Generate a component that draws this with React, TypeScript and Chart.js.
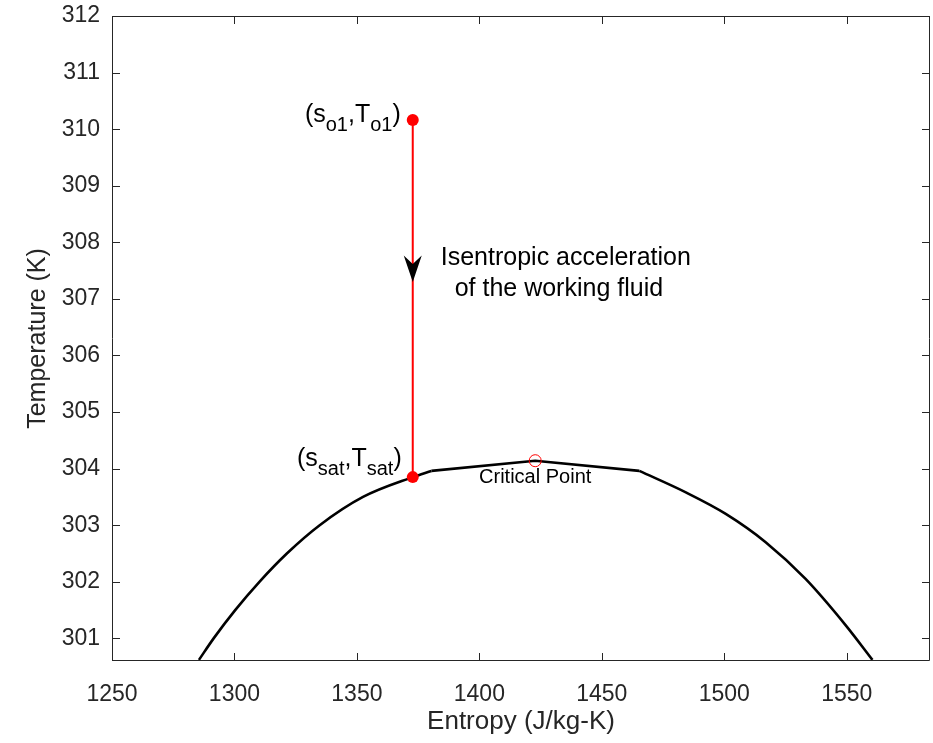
import React, { useEffect, useRef } from "react";
import { Chart, registerables } from "chart.js";

Chart.register(...registerables);

// Saturation dome: liquid branch, near-critical top, vapour branch
const satLeftEntropy = [1285.5, 1291.5, 1300.3, 1310.2, 1321.4, 1334.8, 1352.5, 1372.8, 1380.4];
const satLeftTemperature = [300.62, 301.0, 301.5, 302.0, 302.5, 303.0, 303.5, 303.85, 303.96];
const satTopEntropy = [1380.4, 1422.8, 1465.3];
const satTopTemperature = [303.96, 304.14, 303.96];
const satRightEntropy = [1465.3, 1484.3, 1500.6, 1516.9, 1533.2, 1549.6, 1560.5];
const satRightTemperature = [303.96, 303.58, 303.2, 302.7, 302.05, 301.23, 300.62];

// Isentropic process (stagnation -> saturation)
const processEntropy = [1372.8, 1372.8];
const processTemperature = [310.16, 303.85];

// Critical point
const criticalEntropy = [1422.8];
const criticalTemperature = [304.14];

// Arrow tip on the process line
const arrowEntropy = [1372.8];
const arrowTemperature = [307.3];

const xTicks = [1250, 1300, 1350, 1400, 1450, 1500, 1550];
const xTickLabels = ["1250", "1300", "1350", "1400", "1450", "1500", "1550"];
const yTicks = [301, 302, 303, 304, 305, 306, 307, 308, 309, 310, 311, 312];
const yTickLabels = ["301", "302", "303", "304", "305", "306", "307", "308", "309", "310", "311", "312"];

const FONT = "'Liberation Sans', Arial, Helvetica, sans-serif";
const AXIS_COLOR = "#262626";

function drawSubLabel(ctx: CanvasRenderingContext2D, parts: [string, boolean][], rightX: number, baseline: number, mainSize: number, subSize: number) {
  let total = 0;
  const widths = parts.map(([t, sub]) => {
    ctx.font = `${sub ? subSize : mainSize}px ${FONT}`;
    const w = ctx.measureText(t).width;
    total += w;
    return w;
  });
  let x = rightX - total;
  parts.forEach(([t, sub], i) => {
    ctx.font = `${sub ? subSize : mainSize}px ${FONT}`;
    ctx.fillText(t, x, sub ? baseline + 8.5 : baseline);
    x += widths[i];
  });
}

const axesBoxPlugin = {
  id: "axesBox",
  afterDatasetsDraw(chart: any) {
    const { ctx, chartArea, scales } = chart;
    const { left, right, top, bottom } = chartArea;
    ctx.save();
    ctx.strokeStyle = AXIS_COLOR;
    ctx.lineWidth = 1;
    ctx.beginPath();
    ctx.rect(Math.round(left) + 0.5, Math.round(top) + 0.5, Math.round(right - left) - 1, Math.round(bottom - top) - 1);
    ctx.stroke();
    const tl = 8;
    ctx.beginPath();
    xTicks.forEach((v) => {
      const px = Math.round(scales.x.getPixelForValue(v)) + 0.5;
      ctx.moveTo(px, bottom);
      ctx.lineTo(px, bottom - tl);
      ctx.moveTo(px, top);
      ctx.lineTo(px, top + tl);
    });
    yTicks.forEach((v) => {
      const py = Math.round(scales.y.getPixelForValue(v)) + 0.5;
      ctx.moveTo(left, py);
      ctx.lineTo(left + tl, py);
      ctx.moveTo(right, py);
      ctx.lineTo(right - tl, py);
    });
    ctx.stroke();
    ctx.restore();
  },
};

const annotationPlugin = {
  id: "annotations",
  afterDraw(chart: any) {
    const { ctx, scales } = chart;
    const xs = scales.x;
    const ys = scales.y;
    ctx.save();
    ctx.fillStyle = "#000000";
    ctx.textAlign = "left";
    ctx.textBaseline = "alphabetic";

    // arrow head
    const ax = xs.getPixelForValue(arrowEntropy[0]);
    const ay = ys.getPixelForValue(arrowTemperature[0]);
    ctx.beginPath();
    ctx.moveTo(ax, ay);
    ctx.lineTo(ax - 9, ay - 26.5);
    ctx.lineTo(ax, ay - 18);
    ctx.lineTo(ax + 9, ay - 26.5);
    ctx.closePath();
    ctx.fill();

    // process description
    ctx.font = `25px ${FONT}`;
    ctx.fillText("Isentropic acceleration", ax + 28, ay - 17);
    ctx.fillText("  of the working fluid", ax + 28, ay + 14);

    // state labels
    const p1x = xs.getPixelForValue(processEntropy[0]);
    const p1y = ys.getPixelForValue(processTemperature[0]);
    drawSubLabel(ctx, [["(s", false], ["o1", true], [",T", false], ["o1", true], [")", false]], p1x - 12, p1y + 2, 25, 20);
    const p2x = xs.getPixelForValue(processEntropy[1]);
    const p2y = ys.getPixelForValue(processTemperature[1]);
    drawSubLabel(ctx, [["(s", false], ["sat", true], [",T", false], ["sat", true], [")", false]], p2x - 11, p2y - 11, 25, 20);

    // critical point
    const cx = xs.getPixelForValue(criticalEntropy[0]);
    const cy = ys.getPixelForValue(criticalTemperature[0]);
    ctx.font = `20px ${FONT}`;
    ctx.textAlign = "center";
    ctx.fillText("Critical Point", cx, cy + 22);
    ctx.restore();
  },
};

const curveStyle = {
  showLine: true,
  borderColor: "#000000",
  borderWidth: 2.6,
  pointRadius: 0,
};

export default function App() {
  const canvasRef = useRef<HTMLCanvasElement | null>(null);

  useEffect(() => {
    const canvas = canvasRef.current;
    if (!canvas) return;
    const chart = new Chart(canvas, {
      type: "scatter",
      data: {
        datasets: [
          {
            label: "process",
            data: processEntropy.map((x, i) => ({ x, y: processTemperature[i] })),
            showLine: true,
            borderColor: "#ff0000",
            borderWidth: 2,
            pointRadius: 6,
            pointBackgroundColor: "#ff0000",
            pointBorderColor: "#ff0000",
            pointBorderWidth: 0,
          },
          {
            label: "critical",
            data: criticalEntropy.map((x, i) => ({ x, y: criticalTemperature[i] })),
            showLine: false,
            pointRadius: 6,
            pointBackgroundColor: "rgba(0,0,0,0)",
            pointBorderColor: "#ff0000",
            pointBorderWidth: 1,
          },
          {
            label: "saturation liquid",
            data: satLeftEntropy.map((x, i) => ({ x, y: satLeftTemperature[i] })),
            ...curveStyle,
            cubicInterpolationMode: "monotone",
          },
          {
            label: "saturation top",
            data: satTopEntropy.map((x, i) => ({ x, y: satTopTemperature[i] })),
            ...curveStyle,
            tension: 0,
          },
          {
            label: "saturation vapour",
            data: satRightEntropy.map((x, i) => ({ x, y: satRightTemperature[i] })),
            ...curveStyle,
            cubicInterpolationMode: "monotone",
          },
        ],
      },
      options: {
        animation: false,
        responsive: false,
        devicePixelRatio: 1,
        layout: { autoPadding: false, padding: { left: 0, right: 3, top: 16, bottom: 0 } },
        plugins: { legend: { display: false }, tooltip: { enabled: false } },
        scales: {
          x: {
            type: "linear",
            min: 1250,
            max: 1584,
            afterBuildTicks: (s: any) => {
              s.ticks = xTicks.map((v) => ({ value: v }));
            },
            afterFit: (s: any) => {
              s.height = 82;
              s.paddingLeft = 0;
              s.paddingRight = 0;
            },
            grid: { display: false, drawTicks: false },
            border: { display: false },
            ticks: {
              autoSkip: false,
              maxRotation: 0,
              padding: 20,
              color: AXIS_COLOR,
              font: { family: FONT, size: 23 },
              callback: (_v: any, i: number) => xTickLabels[i],
            },
            title: {
              display: true,
              text: "Entropy (J/kg-K)",
              color: AXIS_COLOR,
              font: { family: FONT, size: 26 },
              padding: { top: 0, bottom: 6 },
            },
          },
          y: {
            type: "linear",
            min: 300.6,
            max: 312,
            afterBuildTicks: (s: any) => {
              s.ticks = yTicks.map((v) => ({ value: v }));
            },
            afterFit: (s: any) => {
              s.width = 112;
              s.paddingTop = 0;
              s.paddingBottom = 0;
            },
            grid: { display: false, drawTicks: false },
            border: { display: false },
            ticks: {
              autoSkip: false,
              padding: 12,
              color: AXIS_COLOR,
              font: { family: FONT, size: 23 },
              callback: (_v: any, i: number) => yTickLabels[i],
            },
            title: {
              display: true,
              text: "Temperature (K)",
              color: AXIS_COLOR,
              font: { family: FONT, size: 25 },
              padding: { top: 23, bottom: 0 },
            },
          },
        },
      },
      plugins: [axesBoxPlugin, annotationPlugin],
    });
    return () => chart.destroy();
  }, []);

  return (
    <div style={{ position: "absolute", left: 0, top: 0, width: 933, height: 743, background: "#ffffff" }}>
      <canvas ref={canvasRef} width={933} height={743} style={{ display: "block", width: 933, height: 743 }} />
    </div>
  );
}
